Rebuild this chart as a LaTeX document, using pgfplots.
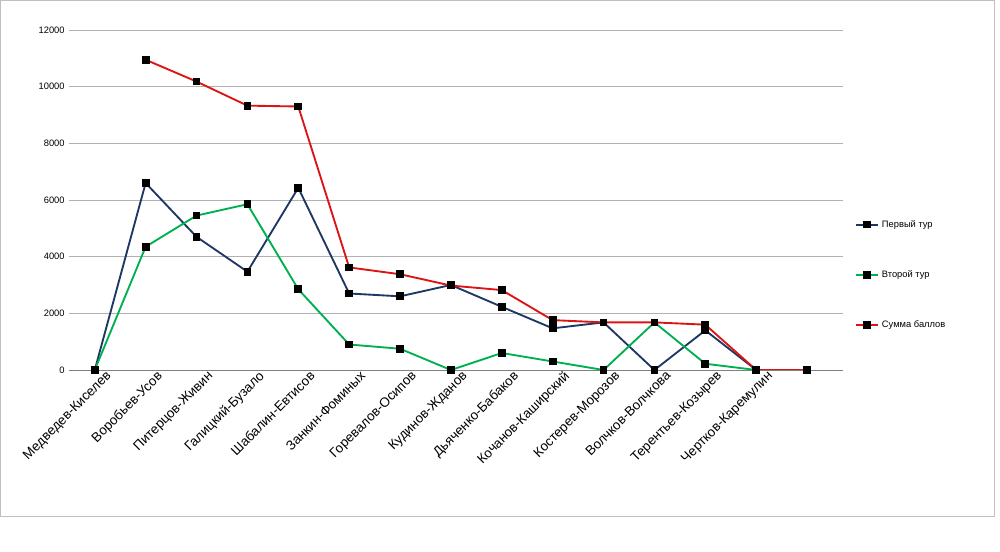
\documentclass[border=0pt]{standalone}
\usepackage{pgfplots}
\pgfplotsset{compat=1.18}
\usepackage{fontspec}
\setmainfont{Liberation Sans}
\begin{document}
\begin{tikzpicture}
\useasboundingbox (0,0) rectangle (750pt,414pt);
\draw[gray!50] (0.5pt,27pt) rectangle (746pt,413.5pt);
\begin{axis}[at={(52pt,136.5pt)},anchor=south west,
 scale only axis, width=580pt, height=255pt,
 xmin=-0.5, xmax=14.7, ymin=0, ymax=12000,
 ytick={0,2000,...,12000},
 ymajorgrids, grid style={gray!60},
 axis x line*=bottom, axis y line*=left,
 y axis line style={draw=none}, x axis line style={gray},
 ytick style={draw=none}, xtick style={draw=none},
 scaled y ticks=false,
 yticklabel style={font=\fontsize{7}{8}\selectfont},
 /pgf/number format/assume math mode=true,
 /pgf/number format/1000 sep={},
 xtick={0,...,14},
 xticklabels={Медведев-Киселев,Воробьев-Усов,Питерцов-Живин,Галицкий-Бузало,Шабалин-Евтисов,Занкин-Фоминых,Горевалов-Осипов,Кудинов-Жданов,Дьяченко-Бабаков,Кочанов-Каширский,Костерев-Морозов,Волчков-Волчкова,Терентьев-Козырев,Чертков-Каремулин},
 x tick label style={rotate=45,anchor=north east,font=\fontsize{10}{12}\selectfont,xshift=9pt,yshift=-2pt},
 legend style={at={(1.01,0.28)},anchor=west,draw=none,font=\fontsize{7}{8}\selectfont,row sep=27pt},
 legend cell align=left,
 every axis plot/.append style={line width=1.4pt,mark=square*,mark size=2.2pt,mark options={fill=black,draw=black}},
]
\addplot[color={rgb,255:red,31;green,56;blue,99}] coordinates {(0,0)(1,6600)(2,4700)(3,3470)(4,6430)(5,2700)(6,2600)(7,3000)(8,2230)(9,1470)(10,1680)(11,0)(12,1400)(13,0)(14,0)};
\addlegendentry{Первый тур}
\addplot[color={rgb,255:red,0;green,176;blue,80}] coordinates {(0,0)(1,4350)(2,5450)(3,5850)(4,2850)(5,900)(6,750)(7,0)(8,600)(9,300)(10,0)(11,1680)(12,220)(13,0)};
\addlegendentry{Второй тур}
\addplot[color={rgb,255:red,220;green,20;blue,20}] coordinates {(1,10950)(2,10180)(3,9330)(4,9300)(5,3620)(6,3380)(7,2980)(8,2820)(9,1760)(10,1680)(11,1680)(12,1600)(13,0)(14,0)};
\addlegendentry{Сумма баллов}
\end{axis}
\end{tikzpicture}
\end{document}
